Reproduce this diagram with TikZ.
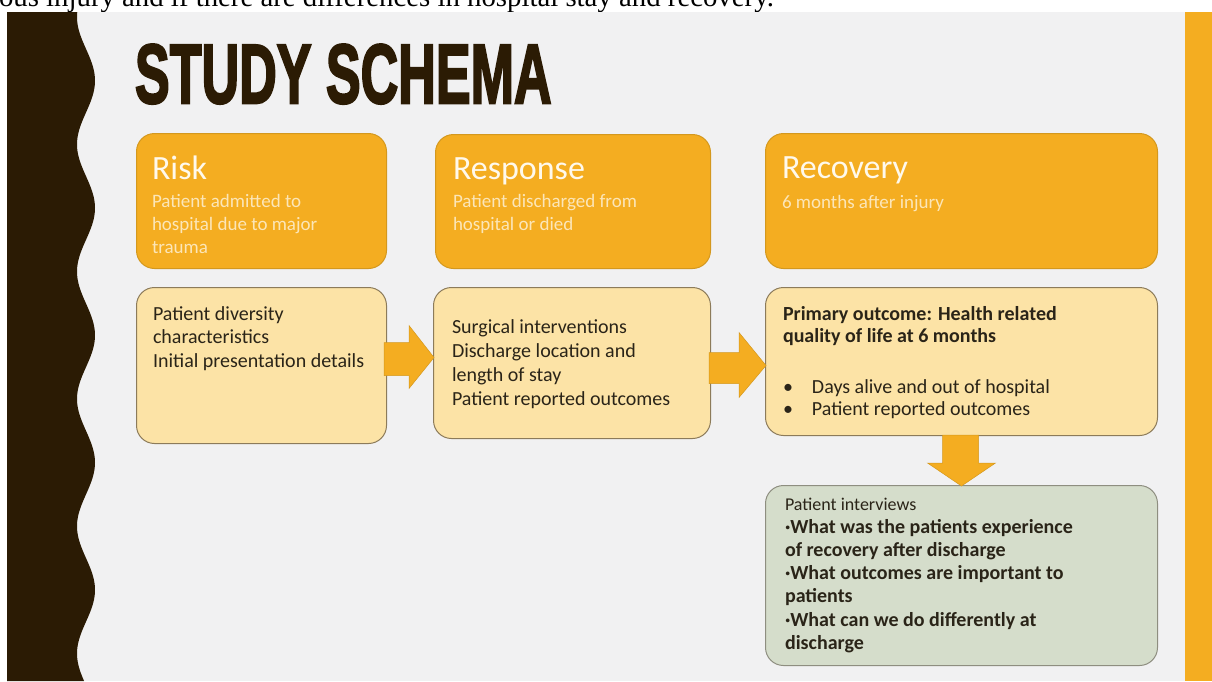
\documentclass[tikz,border=0pt]{standalone}
\usepackage{fontspec}
\usepackage{graphicx}
\setmainfont{Carlito}
\newfontfamily\titlefont{Liberation Sans}[BoldFeatures={FakeBold=3}]
\newfontfamily\topfont{Liberation Serif}
\usetikzlibrary{calc}
\definecolor{slidebg}{HTML}{F1F1F2}
\definecolor{darkbrown}{HTML}{2B1B04}
\definecolor{hdrorange}{HTML}{F4AD21}
\definecolor{orangeborder}{HTML}{D4981E}
\definecolor{lightfill}{HTML}{FCE3A6}
\definecolor{lightborder}{HTML}{8C7B5A}
\definecolor{greenfill}{HTML}{D5DDCB}
\definecolor{greenborder}{HTML}{8E8E80}
\definecolor{subtext}{HTML}{FCE6B8}
\definecolor{hdrtitle}{HTML}{FFF9EC}
\definecolor{bodytext}{HTML}{2A2418}
\begin{document}
\begin{tikzpicture}[x=1pt,y=-1pt,
  hdr/.style={draw=orangeborder, fill=hdrorange, line width=1pt, rounded corners=18pt, anchor=north west, inner sep=0pt},
  bodybox/.style={draw=lightborder, fill=lightfill, line width=1pt, rounded corners=18pt, anchor=north west, inner sep=0pt},
  greenbox/.style={draw=greenborder, fill=greenfill, line width=1pt, rounded corners=18pt, anchor=north west, inner sep=0pt},
  txt/.style={anchor=base west, inner sep=0pt, outer sep=0pt},
  hdrtxt/.style={txt, text=hdrtitle, font=\fontsize{34}{34}\selectfont},
  subtxt/.style={txt, text=subtext, font=\fontsize{19}{23}\selectfont},
  bodytxt/.style={txt, text=bodytext, font=\fontsize{20}{23.5}\selectfont},
  barrow/.style={fill=hdrorange, draw=orangeborder, line width=0.5pt}
]
\useasboundingbox (0,0) rectangle (1212,681);
\clip (0,0) rectangle (1212,681);
\fill[white] (0,0) rectangle (1212,681);
\node[txt, text=black] (toptext) at (-1,6) {\topfont\fontsize{28.8}{28.8}\selectfont ous injury and if there are differences in hospital stay and recovery.};
\fill[slidebg] (7,12) rectangle (1212,681);
\fill[darkbrown] (7,12) -- plot[variable=\t, domain=12:681, samples=240, smooth] ({86+9*cos(2.828*(\t-208))}, \t) -- (7,681) -- cycle;
\fill[hdrorange] (1185,12) rectangle (1212,681);

\node[txt, text=darkbrown] (title) at (135,103) {\scalebox{0.62}[1]{\titlefont\bfseries\fontsize{84}{84}\selectfont STUDY SCHEMA}};

% header boxes
\node[hdr, minimum width=250pt, minimum height=135pt] (riskH) at (136,133) {};
\node[hdr, minimum width=275pt, minimum height=134pt] (respH) at (435,134) {};
\node[hdr, minimum width=392pt, minimum height=135pt] (recH) at (765,133) {};
% body boxes
\node[bodybox, minimum width=250pt, minimum height=156pt] (riskB) at (136,287) {};
\node[bodybox, minimum width=277pt, minimum height=151pt] (respB) at (433,287) {};
\node[bodybox, minimum width=392pt, minimum height=148pt] (recB) at (765,287) {};
\node[greenbox, minimum width=392pt, minimum height=180pt] (intB) at (765,485) {};

% header texts
\node[hdrtxt] (riskT) at (152,179) {Risk};
\node[subtxt] (riskS) at (152,207) {\begin{tabular}[t]{@{}l@{}}Patient admitted to\\hospital due to major\\trauma\end{tabular}};
\node[hdrtxt] (respT) at (453,179) {Response};
\node[subtxt] (respS) at (453,207) {\begin{tabular}[t]{@{}l@{}}Patient discharged from\\hospital or died\end{tabular}};
\node[hdrtxt] (recT) at (782,178) {Recovery};
\node[subtxt] (recS) at (782,208) {6 months after injury};

% body texts
\node[bodytxt] (riskBT) at (153,320) {\begin{tabular}[t]{@{}l@{}}Patient diversity\\characteristics\\Initial presentation details\end{tabular}};
\node[bodytxt, font=\fontsize{20}{24}\selectfont] (respBT) at (452,333) {\begin{tabular}[t]{@{}l@{}}Surgical interventions\\Discharge location and\\length of stay\\Patient reported outcomes\end{tabular}};
\node[bodytxt, font=\fontsize{20}{22}\selectfont\bfseries] (recBT) at (783,320) {\begin{tabular}[t]{@{}l@{}}Primary outcome: Health related\\quality of life at 6 months\end{tabular}};
\node[bodytxt, font=\fontsize{20}{22}\selectfont] (recBL) at (783,393) {\begin{tabular}[t]{@{}l@{}}\makebox[29pt][l]{•}Days alive and out of hospital\\\makebox[29pt][l]{•}Patient reported outcomes\end{tabular}};
\node[bodytxt, font=\fontsize{18}{18}\selectfont] (intT) at (785,510) {Patient interviews};
\node[bodytxt, font=\fontsize{20}{23.3}\selectfont\bfseries] (intL) at (785,533) {\begin{tabular}[t]{@{}l@{}}·What was the patients experience\\of recovery after discharge\\·What outcomes are important to\\patients\\·What can we do differently at\\discharge\end{tabular}};

% block arrows
\begin{scope}[shift={(riskB.east)}]
\filldraw[barrow] (-3,-23) -- (22,-23) -- (22,-40) -- (47,-8) -- (22,23) -- (22,10) -- (-3,10) -- cycle;
\end{scope}
\begin{scope}[shift={(respB.east)}]
\filldraw[barrow] (-2,-10.5) -- (28,-10.5) -- (28,-30.5) -- (55,2.5) -- (28,34.5) -- (28,20.5) -- (-2,20.5) -- cycle;
\end{scope}
\begin{scope}[shift={(recB.south)}]
\filldraw[barrow] (-19,-1) -- (17,-1) -- (17,27) -- (34,27) -- (0,50) -- (-34,27) -- (-19,27) -- cycle;
\end{scope}
\end{tikzpicture}
\end{document}
